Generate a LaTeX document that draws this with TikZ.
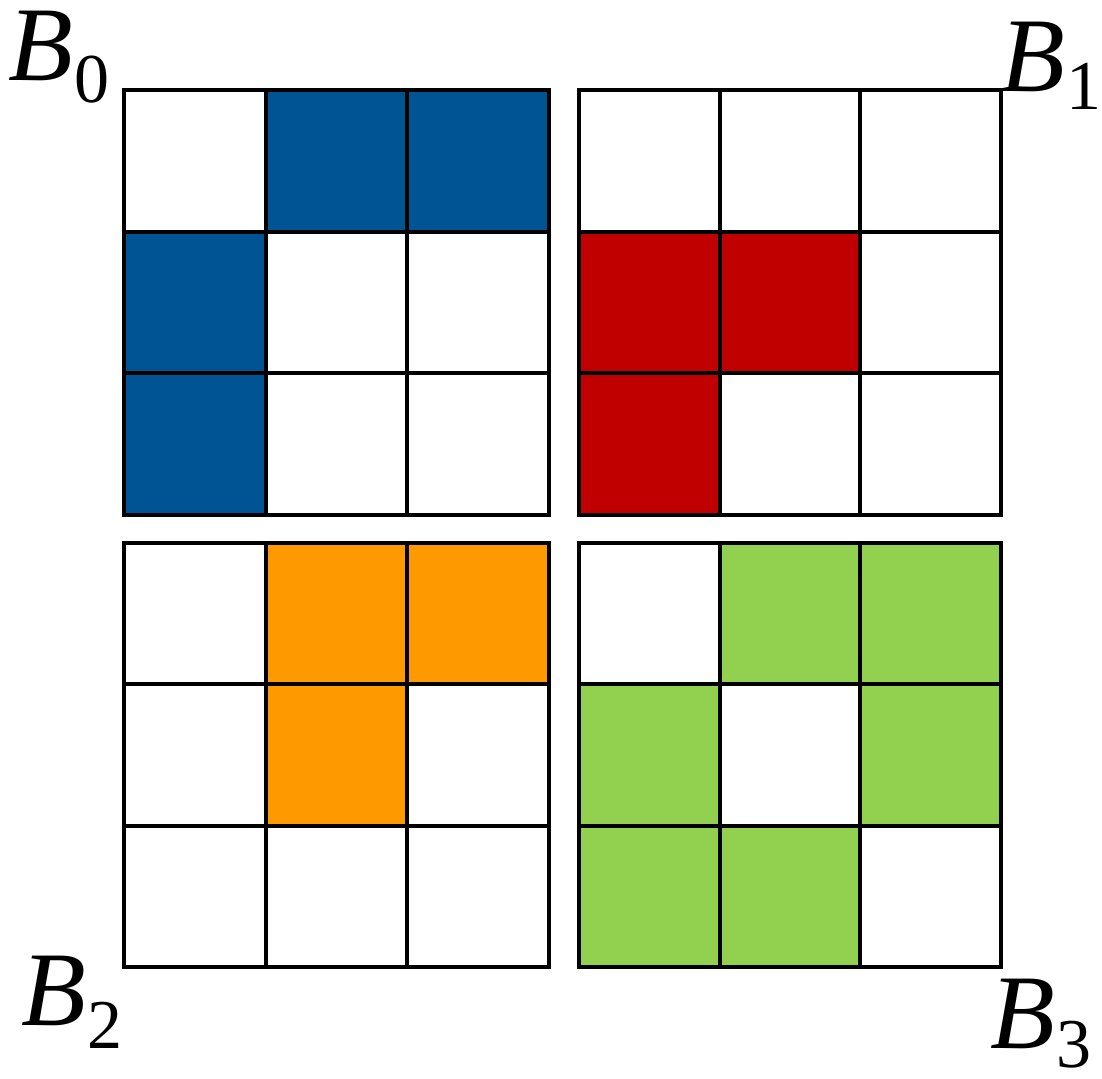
\documentclass[tikz,border=0pt]{standalone}
\usepackage{fontspec}
\setmainfont{Liberation Serif}
\definecolor{cblue}{HTML}{005493}
\definecolor{cred}{HTML}{C00000}
\definecolor{corange}{HTML}{FF9900}
\definecolor{cgreen}{HTML}{92D050}
\newcommand{\blab}[2]{\fontsize{106}{106}\selectfont\textit{B}\hspace{2pt}\raisebox{-#2pt}[\height][0pt]{\fontsize{70}{70}\selectfont #1}}
\begin{document}
\begin{tikzpicture}[x=1pt,y=-1pt,
  gridline/.style={line width=4pt,line cap=rect},
  lab/.style={anchor=base west,inner sep=0pt}]
\useasboundingbox (0,0) rectangle (1102,1078);
% fill one cell: x0, y0, cell width, cell height, col, row, colour
\newcommand{\cellfill}[7]{\fill[#7] ({#1+#5*#3},{#2+#6*#4}) rectangle ++(#3,#4);}
% B0 blue
\cellfill{124}{90}{141.67}{141.67}{1}{0}{cblue}
\cellfill{124}{90}{141.67}{141.67}{2}{0}{cblue}
\cellfill{124}{90}{141.67}{141.67}{0}{1}{cblue}
\cellfill{124}{90}{141.67}{141.67}{0}{2}{cblue}
% B1 red
\cellfill{579}{90}{140.5}{141.67}{0}{1}{cred}
\cellfill{579}{90}{140.5}{141.67}{1}{1}{cred}
\cellfill{579}{90}{140.5}{141.67}{0}{2}{cred}
% B2 orange
\cellfill{124}{543}{141.67}{141.33}{1}{0}{corange}
\cellfill{124}{543}{141.67}{141.33}{2}{0}{corange}
\cellfill{124}{543}{141.67}{141.33}{1}{1}{corange}
% B3 green
\cellfill{579}{543}{140.5}{141.33}{1}{0}{cgreen}
\cellfill{579}{543}{140.5}{141.33}{2}{0}{cgreen}
\cellfill{579}{543}{140.5}{141.33}{0}{1}{cgreen}
\cellfill{579}{543}{140.5}{141.33}{2}{1}{cgreen}
\cellfill{579}{543}{140.5}{141.33}{0}{2}{cgreen}
\cellfill{579}{543}{140.5}{141.33}{1}{2}{cgreen}
% grids
\foreach \x/\y/\cw/\ch in {124/90/141.67/141.67,579/90/140.5/141.67,124/543/141.67/141.33,579/543/140.5/141.33}{
  \foreach \i in {1,2}{
    \draw[gridline] ({\x+\i*\cw},\y) -- ++(0,3*\ch);
    \draw[gridline] (\x,{\y+\i*\ch}) -- ++(3*\cw,0);
  }
  \draw[gridline] (\x,\y) rectangle ++(3*\cw,3*\ch);
}
% labels
\node[lab] (b0) at (8,81) {\blab{0}{22}};
\node[lab] (b1) at (1000,92) {\blab{1}{18}};
\node[lab] (b2) at (21,1025) {\blab{2}{23}};
\node[lab] (b3) at (990,1048) {\blab{3}{19}};
\end{tikzpicture}
\end{document}
